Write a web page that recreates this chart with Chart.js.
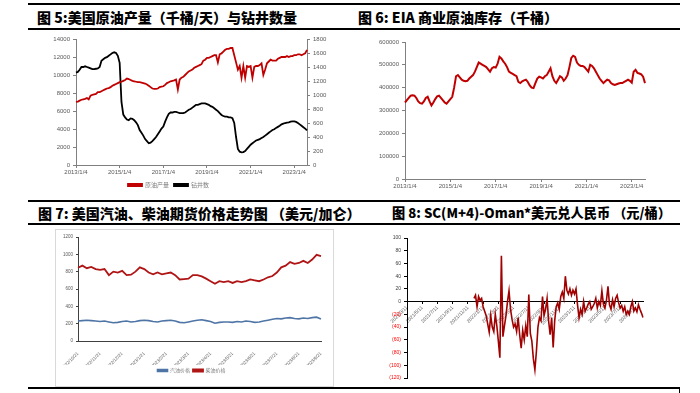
<!DOCTYPE html>
<html>
<head>
<meta charset="utf-8">
<script src="https://cdn.jsdelivr.net/npm/chart.js@4.4.0/dist/chart.umd.min.js"></script>
<style>
body{margin:0;background:#fff;width:700px;height:393px;position:relative;overflow:hidden;font-family:"Noto Sans CJK SC",sans-serif}
.t{position:absolute;font-size:14px;font-weight:900;color:#000;white-space:nowrap;line-height:16px}
.h{position:absolute;height:2px;background:#000}
.box{position:absolute;border:1px solid #d9d9d9;background:#fff}
canvas{position:absolute}
</style>
</head>
<body>
<div class="h" style="left:28px;top:3px;width:652px"></div>
<div class="h" style="left:28px;top:28px;width:652px"></div>
<div class="t" style="left:37px;top:9px">图 5:美国原油产量（千桶/天）与钻井数量</div>
<div class="t" style="left:358px;top:9px">图 6: EIA 商业原油库存（千桶）</div>

<div class="h" style="left:28px;top:200px;width:652px"></div>
<div class="h" style="left:28px;top:223px;width:652px"></div>
<div class="t" style="left:38px;top:205px">图 7: 美国汽油、柴油期货价格走势图 （美元/加仑）</div>
<div class="t" style="left:392px;top:205px;font-size:13.2px">图 8: SC(M+4)-Oman*美元兑人民币 （元/桶）</div>
<div class="h" style="left:28px;top:387px;width:652px"></div>
<div style="position:absolute;left:679px;top:387px;width:1px;height:6px;background:#000"></div>

<canvas id="c5" width="315" height="166" style="left:30px;top:32px"></canvas>
<canvas id="c6" width="328" height="166" style="left:352px;top:32px"></canvas>
<div class="box" style="left:55px;top:229px;width:277px;height:156px"></div>
<canvas id="c7" width="276" height="155" style="left:56px;top:230px"></canvas>
<canvas id="c8" width="328" height="158" style="left:352px;top:228px"></canvas>

<script>
// 图5 / 图6: monthly, 2013/1 - 2023/8
var crudeOutput = [
  7000,7050,7150,7250,7300,7350,7450,7300,7700,7800,7850,7900,
  8100,8100,8200,8300,8400,8500,8550,8650,8800,8900,9000,9100,
  9200,9250,9350,9450,9600,9550,9450,9350,9300,9250,9200,9200,
  9150,9100,9050,8950,8800,8650,8500,8450,8450,8500,8650,8700,
  8750,8900,9100,9200,9300,9350,9400,9500,8400,9500,9700,9800,
  10000,10200,10400,10500,10600,10800,10900,11000,11100,11200,11600,11700,
  11900,11900,12000,12100,12200,12200,11400,12300,12400,12600,12800,12900,
  12900,13000,13000,12200,11400,10600,11000,9700,11000,9700,11000,10900,
  11000,9700,10900,11000,11000,11100,11300,10000,10600,11300,11500,11700,
  11600,11600,11600,11800,11900,12000,12000,12000,12100,12000,12100,12100,
  12200,12200,12300,12300,12200,12300,12400,12800
];
var rigCount = [
  1320,1330,1360,1400,1400,1410,1400,1390,1380,1370,1370,1375,
  1380,1400,1490,1510,1530,1540,1560,1580,1600,1610,1600,1560,
  1460,900,720,680,650,640,665,660,640,610,570,500,
  460,420,370,340,310,320,340,370,400,440,480,520,
  550,620,680,730,750,750,760,760,750,740,740,740,
  750,770,790,800,820,840,860,860,870,880,880,880,
  870,860,840,830,810,790,770,740,715,700,690,690,
  680,680,670,600,400,230,190,180,185,200,230,260,
  290,310,330,350,360,370,385,400,420,440,460,480,
  500,510,530,545,560,580,590,600,605,610,620,622,
  622,615,600,580,560,540,520,495
];
var crudeStocks = [
  335000,345000,355000,365000,367000,365000,355000,340000,332000,330000,340000,355000,
  360000,340000,322000,335000,350000,362000,365000,355000,345000,335000,330000,340000,
  350000,360000,400000,450000,455000,445000,435000,430000,428000,430000,440000,448000,
  455000,470000,490000,510000,505000,500000,495000,490000,480000,470000,485000,490000,
  488000,505000,535000,528000,515000,505000,490000,470000,465000,460000,455000,450000,
  425000,420000,428000,432000,435000,425000,410000,400000,398000,420000,440000,448000,
  445000,440000,450000,455000,470000,485000,450000,430000,420000,435000,450000,445000,
  430000,440000,455000,490000,530000,540000,535000,510000,500000,495000,495000,490000,
  480000,470000,500000,495000,485000,470000,455000,440000,430000,420000,428000,435000,
  432000,420000,415000,412000,415000,418000,420000,420000,425000,430000,435000,430000,
  422000,470000,478000,465000,462000,458000,448000,420000
];
var yearTicks = ['2013/1/4','2015/1/4','2017/1/4','2019/1/4','2021/1/4','2023/1/4'];

// 图7: 2022/10/21 - 2023/9
var dieselPrice = [
  845,870,840,855,830,820,830,760,800,790,810,760,765,800,850,830,790,770,790,770,
  780,790,760,710,715,720,760,760,745,720,690,660,690,680,690,670,690,680,690,710,
  700,690,710,735,750,790,850,870,910,890,900,925,900,940,995,980
];
var gasolinePrice = [
  230,235,240,235,230,225,230,220,210,215,225,230,220,225,235,240,235,225,220,230,
  235,240,230,215,210,220,230,240,245,235,225,205,215,220,220,215,225,220,230,225,
  215,220,230,240,250,260,255,265,270,260,255,265,260,270,275,255
];
var priceTicks = ['2022/10/21','2022/11/21','2022/12/21','2023/1/21','2023/2/21','2023/3/21',
  '2023/4/21','2023/5/21','2023/6/21','2023/7/21','2023/8/21','2023/9/21'];

// 图8: SC-Oman spread, series begins late 2021
var spreadLead = 44;
var scOmanSpread = [
  5,10,-8,8,2,5,-8,-15,-22,-35,-48,-22,-40,-47,-20,-38,-62,-88,72,-55,
  -38,-22,0,17,-12,-28,-40,-35,-47,-25,-52,-73,-45,-60,-38,-55,11,-50,-62,-90,
  -107,-78,-40,-25,-30,8,-22,-12,5,-30,-52,-25,-72,-30,-8,-2,-12,8,15,5,
  40,18,12,20,10,18,12,20,-5,-25,-12,-20,0,-15,-10,-4,0,-12,-8,-3,
  5,-10,0,-6,17,-4,-10,2,24,-5,-12,3,-8,5,10,-2,-10,-6,-15,-8,
  -20,-15,-20,-8,0,-15,-10,-16,-5,-12,-18,-25
];
var spreadTicks = ['2021/3/11','2021/5/11','2021/7/11','2021/9/11','2021/11/11','2022/1/11',
  '2022/3/11','2022/5/11','2022/7/11','2022/9/11','2022/11/11','2023/1/11',
  '2023/3/11','2023/5/11','2023/7/11','2023/9/11'];

Chart.defaults.font.family = "'Liberation Sans', Arial, sans-serif";
Chart.defaults.font.size = 6;
Chart.defaults.color = '#595959';
Chart.defaults.animation = false;
Chart.defaults.responsive = false;
Chart.defaults.devicePixelRatio = 1;

var months = [];
for (var y = 2013; y <= 2023; y++) {
  for (var m = 1; m <= 12; m++) {
    if (months.length < crudeOutput.length) months.push(y + '/' + m + '/4');
  }
}

var plain = { useGrouping: false };

function axisGrid(c) {
  return { display: true, drawOnChartArea: false, drawTicks: true, tickLength: 3, color: c };
}

function shiftLegend(dx) {
  return { id: 'shift', afterLayout: function(c) { c.legend.left += dx; c.legend.right += dx; } };
}

// 图5
new Chart(document.getElementById('c5'), {
  type: 'line',
  data: {
    labels: months,
    datasets: [
      { label: '原油产量', data: crudeOutput, borderColor: '#C00000', backgroundColor: '#C00000',
        borderWidth: 1.8, pointRadius: 0, yAxisID: 'y' },
      { label: '钻井数', data: rigCount, borderColor: '#000000', backgroundColor: '#000000',
        borderWidth: 1.8, pointRadius: 0, yAxisID: 'y1' }
    ]
  },
  options: {
    layout: { padding: { top: 7, left: 0, right: 0, bottom: 0 } },
    plugins: {
      legend: { position: 'bottom', labels: { boxWidth: 14, boxHeight: 2, padding: 5,
        color: '#7f7f7f', font: { family: "'Noto Sans CJK SC'", size: 6 } } },
      tooltip: { enabled: false }
    },
    scales: {
      x: { grid: axisGrid('#808080'), border: { color: '#808080' },
        ticks: { maxRotation: 0, autoSkip: false, padding: 1 },
        afterBuildTicks: function(s) { s.ticks = yearTicks.map(function(l) { return { value: months.indexOf(l) }; }); },
        afterFit: function(s) { s.height = 12; } },
      y: { min: 0, max: 14000, ticks: { stepSize: 2000, padding: 3, format: plain }, grid: axisGrid('#808080'),
        border: { color: '#808080' }, afterFit: function(s) { s.width = 46; } },
      y1: { position: 'right', min: 0, max: 1800, ticks: { stepSize: 200, padding: 3, format: plain }, grid: axisGrid('#808080'),
        border: { color: '#808080' }, afterFit: function(s) { s.width = 38; } }
    }
  },
  plugins: [shiftLegend(-19)]
});

// 图6
new Chart(document.getElementById('c6'), {
  type: 'line',
  data: {
    labels: months,
    datasets: [
      { label: '商业原油库存', data: crudeStocks, borderColor: '#C00000', borderWidth: 2, pointRadius: 0 }
    ]
  },
  options: {
    layout: { padding: { top: 10, left: 0, right: 35, bottom: 0 } },
    plugins: { legend: { display: false }, tooltip: { enabled: false } },
    scales: {
      x: { grid: axisGrid('#808080'), border: { color: '#808080' },
        ticks: { maxRotation: 0, autoSkip: false, padding: 1 },
        afterBuildTicks: function(s) { s.ticks = yearTicks.map(function(l) { return { value: months.indexOf(l) }; }); },
        afterFit: function(s) { s.height = 19; } },
      y: { min: 0, max: 600000, ticks: { stepSize: 100000, padding: 3, format: plain }, grid: axisGrid('#808080'),
        border: { color: '#808080' }, afterFit: function(s) { s.width = 53; } }
    }
  }
});

// 图7
var idx7 = dieselPrice.map(function(v, i) { return i; });
new Chart(document.getElementById('c7'), {
  type: 'line',
  data: {
    labels: idx7,
    datasets: [
      { label: '汽油价格', data: gasolinePrice, borderColor: '#4F75A6', backgroundColor: '#4F75A6',
        borderWidth: 1.6, pointRadius: 0 },
      { label: '柴油价格', data: dieselPrice, borderColor: '#B01515', backgroundColor: '#B01515',
        borderWidth: 1.8, pointRadius: 0 }
    ]
  },
  options: {
    layout: { padding: { top: 7, left: 0, right: 11, bottom: 2 } },
    plugins: {
      legend: { position: 'bottom', labels: { boxWidth: 10, boxHeight: 2, padding: 3,
        color: '#7f7f7f', font: { family: "'Noto Sans CJK SC'", size: 5 } } },
      tooltip: { enabled: false }
    },
    scales: {
      x: { grid: { display: false }, border: { color: '#404040' },
        ticks: { minRotation: 45, maxRotation: 45, autoSkip: false, padding: 2, font: { size: 4.5 },
          callback: function(v, i) { return priceTicks[i]; } },
        afterBuildTicks: function(s) { s.ticks = priceTicks.map(function(l, i) { return { value: i * 5 }; }); },
        afterFit: function(s) { s.height = 24; } },
      y: { min: 0, max: 1200, ticks: { stepSize: 200, padding: 3, font: { size: 4.5 }, format: plain },
        grid: { display: true, drawOnChartArea: false, tickLength: 2, color: '#404040' },
        border: { color: '#404040' }, afterFit: function(s) { s.width = 22; } }
    }
  },
  plugins: [shiftLegend(3)]
});

// 图8
var spreadData = [];
for (var k = 0; k < spreadLead; k++) spreadData.push(null);
spreadData = spreadData.concat(scOmanSpread);
var idx8 = spreadData.map(function(v, i) { return i; });
new Chart(document.getElementById('c8'), {
  type: 'line',
  data: {
    labels: idx8,
    datasets: [
      { label: 'SC-Oman', data: spreadData, borderColor: '#A00000', borderWidth: 1.6, pointRadius: 0 }
    ]
  },
  options: {
    layout: { padding: { top: 10, left: 0, right: 37, bottom: 8 } },
    plugins: { legend: { display: false }, tooltip: { enabled: false } },
    scales: {
      x: { position: { y: 0 }, grid: { display: true, drawOnChartArea: false, tickLength: 2, color: '#000' },
        border: { color: '#000', width: 1 },
        ticks: { minRotation: 45, maxRotation: 45, autoSkip: false, padding: 1, font: { size: 5 }, color: '#595959',
          callback: function(v, i) { return spreadTicks[i]; } },
        afterBuildTicks: function(s) { s.ticks = spreadTicks.map(function(l, i) { return { value: i * 10 }; }); } },
      y: { min: -120, max: 100,
        ticks: { stepSize: 20, padding: 3, font: { size: 5 },
          color: function(c) { return c.tick && c.tick.value < 0 ? '#FF0000' : '#404040'; },
          callback: function(v) { return v < 0 ? '(' + (-v) + ')' : String(v); } },
        grid: { display: true, drawOnChartArea: false, tickLength: 3, color: '#000' },
        border: { color: '#000' }, afterFit: function(s) { s.width = 55; } }
    }
  }
});
</script>
</body>
</html>
